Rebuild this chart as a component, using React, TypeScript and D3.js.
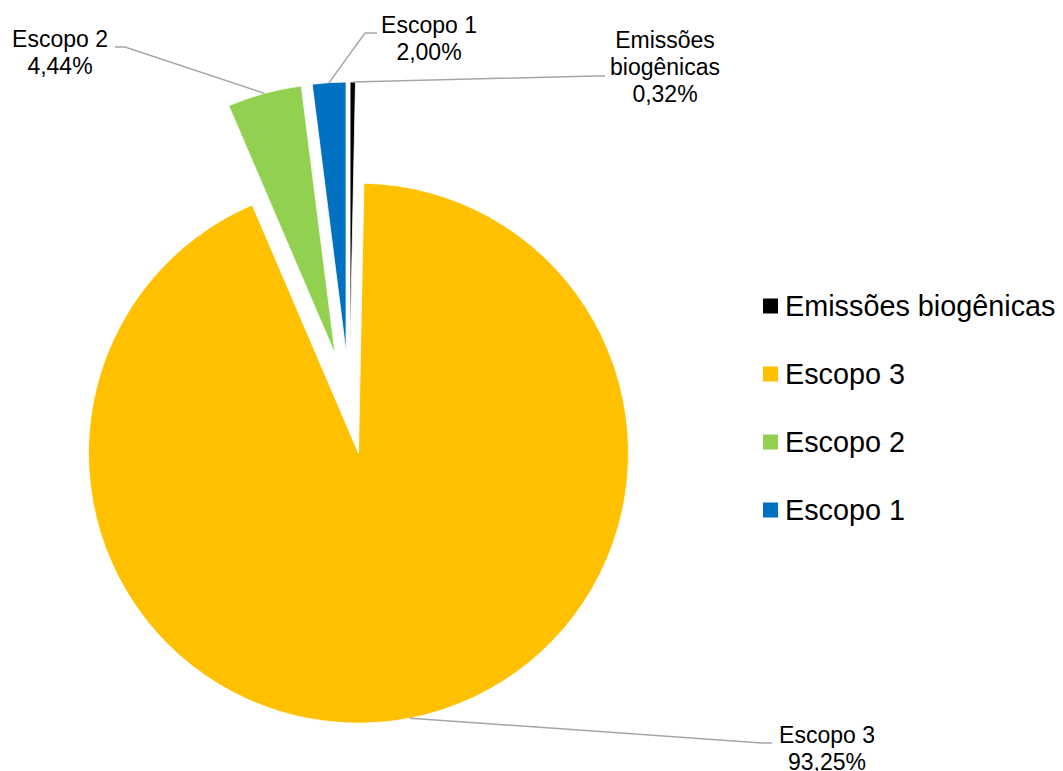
import React from "react";
import * as d3 from "d3";

const categories = ["Emissões biogênicas", "Escopo 3", "Escopo 2", "Escopo 1"];
const values = [0.32, 93.25, 4.44, 2.0];
const colors = ["#000000", "#FFC000", "#92D050", "#0070C0"];
const labelNames = [["Emissões", "biogênicas"], ["Escopo 3"], ["Escopo 2"], ["Escopo 1"]];

// layout (positions of labels / explosion) – styling, not data
const W = 1063;
const H = 771;
const CX = 349.5;
const CY = 407;
const R = 270;
const explode = [55, 47, 55, 55];
const labelLayout = [
  { x: 665, y: 48, elbow: [595, 76], end: [605, 76] },
  { x: 827, y: 743, elbow: [762, 743], end: [772, 743] },
  { x: 60, y: 47, elbow: [125, 47], end: [115, 47] },
  { x: 429, y: 33, elbow: [365, 33], end: [377, 33] },
];
const FONT = "'Liberation Sans', Arial, sans-serif";

const fmt = (v: number) => d3.format(".2f")(v).replace(".", ",") + "%";

export default function App() {
  const pie = d3
    .pie<number>()
    .sort(null)
    .value((d) => d)
    .startAngle(0)
    .endAngle(2 * Math.PI);
  const arcs = pie(values);
  const arc = d3.arc<d3.PieArcDatum<number>>().innerRadius(0).outerRadius(R);

  const legendX = 763;
  const legendY0 = 306;
  const legendStep = 68;

  return (
    <svg
      width={W}
      height={H}
      style={{ position: "absolute", left: 0, top: 0, background: "#fff" }}
      fontFamily={FONT}
    >
      <g transform={`translate(${CX},${CY})`}>
        {arcs.map((a, i) => {
          const mid = (a.startAngle + a.endAngle) / 2;
          const dx = explode[i] * Math.sin(mid);
          const dy = -explode[i] * Math.cos(mid);
          return (
            <path
              key={i}
              d={arc(a) || ""}
              transform={`translate(${dx},${dy})`}
              fill={colors[i]}
              stroke="#fff"
              strokeWidth={0.8}
            />
          );
        })}
      </g>
      {arcs.map((a, i) => {
        const mid = (a.startAngle + a.endAngle) / 2;
        const dist = explode[i] + R;
        const sx = CX + dist * Math.sin(mid);
        const sy = CY - dist * Math.cos(mid);
        const L = labelLayout[i];
        const pts = [[sx, sy], L.elbow, L.end];
        return (
          <polyline
            key={"l" + i}
            points={pts.map((p) => p.join(",")).join(" ")}
            fill="none"
            stroke="#A6A6A6"
            strokeWidth={1.5}
          />
        );
      })}
      {arcs.map((a, i) => {
        const L = labelLayout[i];
        const lines = [...labelNames[i], fmt(values[i])];
        return (
          <text key={"t" + i} x={L.x} y={L.y} textAnchor="middle" fontSize={23} fill="#000">
            {lines.map((s, j) => (
              <tspan key={j} x={L.x} y={L.y + j * 27}>
                {s}
              </tspan>
            ))}
          </text>
        );
      })}
      {categories.map((c, i) => (
        <g key={"lg" + i} transform={`translate(${legendX},${legendY0 + i * legendStep})`}>
          <rect x={0} y={-7.5} width={15} height={15} fill={colors[i]} />
          <text x={22} y={10} fontSize={28.8} fill="#000">
            {c}
          </text>
        </g>
      ))}
    </svg>
  );
}
